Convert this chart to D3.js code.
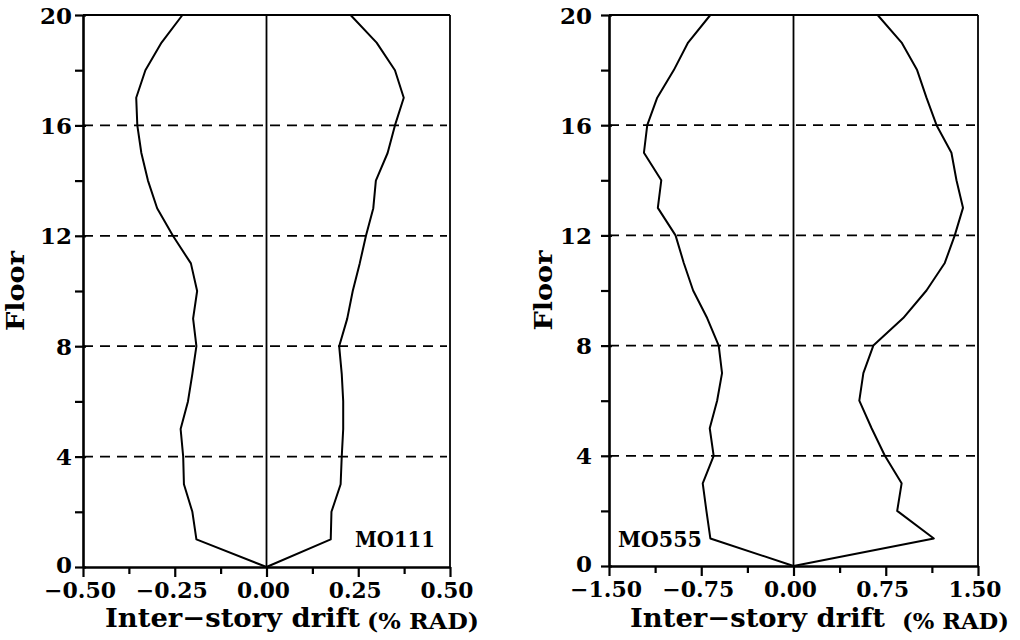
<!DOCTYPE html>
<html>
<head>
<meta charset="utf-8">
<script src="https://cdn.jsdelivr.net/npm/d3@7"></script>
<style>
  html, body { margin: 0; padding: 0; background: #fff; }
  svg { display: block; }
  text { font-family: "DejaVu Serif", serif; fill: #000; }
</style>
</head>
<body>
<div class="chart"></div>
<script>
var floors = [0, 1, 2, 3, 4, 5, 6, 7, 8, 9, 10, 11, 12, 13, 14, 15, 16, 17, 18, 19, 20];

// M0111 - peak inter-story drift per floor (% rad)
var m0111Neg = [0, -0.191, -0.202, -0.225, -0.227, -0.234, -0.214, -0.202, -0.191, -0.200, -0.189,
  -0.206, -0.255, -0.298, -0.323, -0.341, -0.352, -0.355, -0.330, -0.286, -0.229];
var m0111Pos = [0, 0.175, 0.177, 0.202, 0.205, 0.209, 0.209, 0.205, 0.198, 0.220, 0.235,
  0.254, 0.271, 0.291, 0.298, 0.330, 0.350, 0.374, 0.350, 0.300, 0.229];

// M0555
var m0555Neg = [0, -0.676, -0.708, -0.738, -0.649, -0.681, -0.621, -0.581, -0.608, -0.702, -0.816,
  -0.892, -0.959, -1.103, -1.075, -1.216, -1.189, -1.108, -0.973, -0.857, -0.676];
var m0555Pos = [0, 1.141, 0.843, 0.879, 0.743, 0.635, 0.535, 0.568, 0.649, 0.892, 1.081,
  1.230, 1.311, 1.378, 1.325, 1.284, 1.163, 1.081, 1.005, 0.879, 0.684];

var leftXTicks = [-0.50, -0.375, -0.25, -0.125, 0, 0.125, 0.25, 0.375, 0.50];
var leftXLabels = [-0.50, -0.25, 0, 0.25, 0.50];
var rightXTicks = [-1.50, -1.125, -0.75, -0.375, 0, 0.375, 0.75, 1.125, 1.50];
var rightXLabels = [-1.50, -0.75, 0, 0.75, 1.50];
var yTicks = [0, 2, 4, 6, 8, 10, 12, 14, 16, 18, 20];
var yLabels = [0, 4, 8, 12, 16, 20];
var gridFloors = [4, 8, 12, 16];

(function () {
  'use strict';

  var W = 1020, H = 640;
  var svg = d3.select(".chart").append("svg").attr("width", W).attr("height", H);
  svg.append("rect").attr("width", W).attr("height", H).attr("fill", "#fff");

  var fmt = function (d) { return d3.format(".2f")(d).replace("-", "\u2212"); };

  function drawPanel(p) {
    var x = d3.scaleLinear().domain(p.domain).range([p.x0, p.x1]);
    var y = d3.scaleLinear().domain([0, 20]).range([p.y0, p.y1]);
    var g = svg.append("g");

    // dashed floor lines
    g.selectAll(".grid").data(gridFloors).enter().append("line")
      .attr("x1", p.x0).attr("x2", p.x1 - 3)
      .attr("y1", function (d) { return y(d); }).attr("y2", function (d) { return y(d); })
      .attr("stroke", "#000").attr("stroke-width", 1.8).attr("stroke-dasharray", "10,7");

    // frame top / right
    g.append("line").attr("x1", p.x0).attr("x2", p.x1).attr("y1", p.y1).attr("y2", p.y1)
      .attr("stroke", "#000").attr("stroke-width", 2.2);
    g.append("line").attr("x1", p.x1).attr("x2", p.x1).attr("y1", p.y1).attr("y2", p.y0)
      .attr("stroke", "#000").attr("stroke-width", 1.8);
    // zero line
    g.append("line").attr("x1", x(0)).attr("x2", x(0)).attr("y1", p.y1).attr("y2", p.y0)
      .attr("stroke", "#000").attr("stroke-width", 1.8);

    // x axis
    var gx = g.append("g").attr("transform", "translate(0," + p.y0 + ")")
      .call(d3.axisBottom(x).tickValues(p.xTicks).tickSize(9).tickSizeOuter(0).tickFormat(""));
    gx.select(".domain").attr("stroke-width", 2.4);
    gx.selectAll(".tick line").attr("stroke-width", 2.2)
      .attr("y2", function (d) { return p.xLabels.indexOf(d) >= 0 ? 10 : 7; });
    g.selectAll(".xlab").data(p.xLabels).enter().append("text")
      .attr("x", function (d) { return x(d) - 3; }).attr("y", p.y0 + 31)
      .attr("text-anchor", "middle").attr("font-size", 22).attr("font-weight", "bold")
      .attr("textLength", function (d) { return d < 0 ? 72 : 53; })
      .attr("lengthAdjust", "spacingAndGlyphs")
      .text(fmt);

    // y axis
    var gy = g.append("g").attr("transform", "translate(" + p.x0 + ",0)")
      .call(d3.axisLeft(y).tickValues(yTicks).tickSize(8).tickSizeOuter(0).tickFormat(""));
    gy.select(".domain").attr("stroke-width", 2.6);
    gy.selectAll(".tick line").attr("stroke-width", 2.2)
      .attr("x1", function (d) { return yLabels.indexOf(d) >= 0 ? 3 : 0; });
    g.selectAll(".ylab").data(yLabels).enter().append("text")
      .attr("x", p.x0 - p.yPad).attr("y", function (d) { return y(d) + (d === 0 ? 6 : 8.5); })
      .attr("text-anchor", "end").attr("font-size", 23).attr("font-weight", "bold")
      .text(function (d) { return d; });

    // drift envelopes
    var line = d3.line()
      .x(function (d) { return x(d[0]); })
      .y(function (d) { return y(d[1]); });
    [p.neg, p.pos].forEach(function (vals) {
      g.append("path").datum(d3.zip(vals, floors)).attr("d", line)
        .attr("fill", "none").attr("stroke", "#000").attr("stroke-width", 2)
        .attr("stroke-linejoin", "round");
    });

    // labels
    g.append("text").attr("transform", "translate(" + p.floorX + "," + ((p.y0 + p.y1) / 2) + ") rotate(-90)")
      .attr("text-anchor", "middle").attr("font-size", 24).attr("font-weight", "bold")
      .attr("textLength", 80).attr("lengthAdjust", "spacingAndGlyphs").text("Floor");
    g.append("text").attr("x", p.labX).attr("y", 627)
      .attr("font-size", 26).attr("font-weight", "bold")
      .attr("textLength", 255).attr("lengthAdjust", "spacingAndGlyphs")
      .text("Inter\u2212story  drift");
    g.append("text").attr("x", p.radX).attr("y", 629)
      .attr("font-size", 22).attr("font-weight", "bold")
      .attr("textLength", p.radW).attr("lengthAdjust", "spacingAndGlyphs")
      .text("(% RAD)");
    g.append("text").attr("x", p.tagX).attr("y", 547)
      .attr("font-size", 22).attr("font-weight", "bold")
      .attr("textLength", p.tagW).attr("lengthAdjust", "spacingAndGlyphs")
      .text(p.tag);
  }

  drawPanel({
    domain: [-0.5, 0.5], x0: 83, x1: 450, y0: 567, y1: 15,
    xTicks: leftXTicks, xLabels: leftXLabels, yPad: 11,
    neg: m0111Neg, pos: m0111Pos,
    floorX: 24, labX: 105, radX: 367, radW: 112, tagX: 355, tagW: 80, tag: "MO111"
  });

  drawPanel({
    domain: [-1.5, 1.5], x0: 609, x1: 978, y0: 566, y1: 15,
    xTicks: rightXTicks, xLabels: rightXLabels, yPad: 17,
    neg: m0555Neg, pos: m0555Pos,
    floorX: 552, labX: 630, radX: 902, radW: 107, tagX: 618, tagW: 84, tag: "MO555"
  });

})();
</script>
</body>
</html>
